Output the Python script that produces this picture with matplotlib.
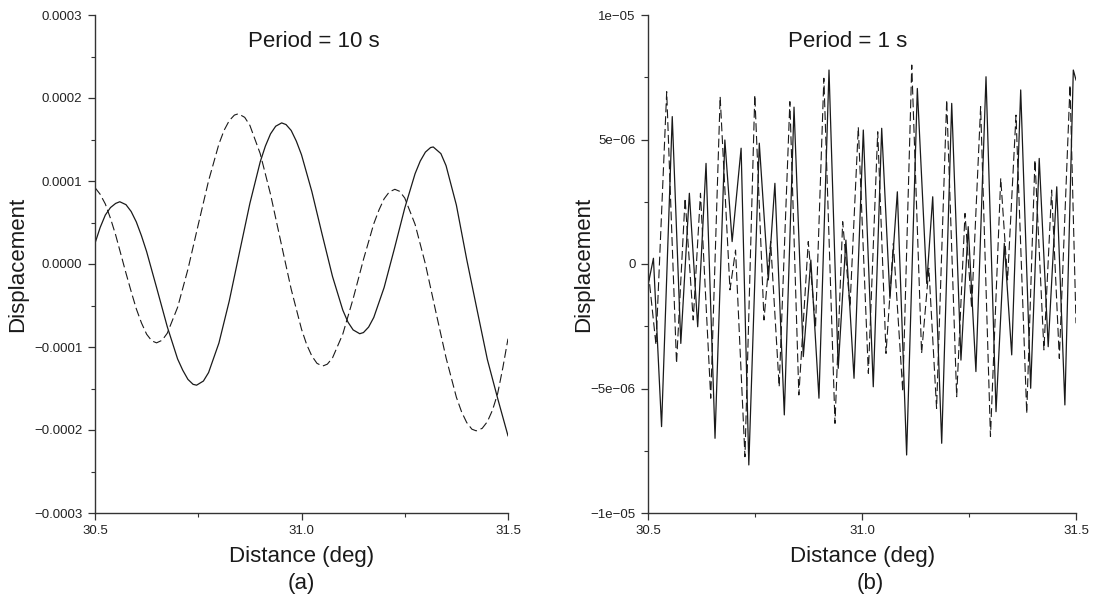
import matplotlib
matplotlib.use("Agg")
import matplotlib.pyplot as plt
from matplotlib.ticker import MultipleLocator

plt.rcParams['font.family'] = ['Liberation Sans', 'DejaVu Sans']

# ---- panel (a): period = 10 s, displacement in units of 1e-5 ----
xa_solid = [30.5, 30.5125, 30.525, 30.5375, 30.55, 30.56, 30.575, 30.5875, 30.6, 30.6125,
            30.625, 30.65, 30.675, 30.7, 30.7125, 30.725, 30.7375, 30.746, 30.7625, 30.775,
            30.8, 30.825, 30.85, 30.875, 30.9, 30.9125, 30.925, 30.9375, 30.952, 30.9625,
            30.975, 30.9875, 31.0, 31.025, 31.05, 31.075, 31.1, 31.1125, 31.125, 31.141,
            31.15, 31.1625, 31.175, 31.2, 31.225, 31.25, 31.275, 31.2875, 31.3, 31.3125,
            31.319, 31.3375, 31.35, 31.375, 31.4, 31.425, 31.45, 31.475, 31.5]
solid_a = [2.5, 4.4, 5.9, 6.8, 7.3, 7.5, 7.15, 6.33, 5.07, 3.4,
           1.49, -3.0, -7.56, -11.44, -12.8, -13.9, -14.5, -14.6, -14.1, -13.08,
           -9.53, -4.47, 1.44, 7.3, 12.3, 14.2, 15.68, 16.6, 17.0, 16.8,
           16.09, 14.8, 13.16, 8.74, 3.56, -1.49, -5.56, -7.0, -7.94, -8.4,
           -8.26, -7.6, -6.44, -2.84, 1.86, 6.74, 10.88, 12.4, 13.48, 14.03,
           14.1, 13.3, 11.85, 7.1, 0.56, -5.5, -11.5, -16.2, -20.7]
xa_dashed = [30.5, 30.5125, 30.525, 30.5375, 30.55, 30.5625, 30.575, 30.5875, 30.6, 30.6125,
             30.625, 30.6375, 30.649, 30.6625, 30.675, 30.7, 30.725, 30.75, 30.775, 30.8,
             30.8125, 30.825, 30.8375, 30.847, 30.8625, 30.875, 30.9, 30.925, 30.95, 30.975,
             31.0, 31.0125, 31.025, 31.0375, 31.051, 31.0625, 31.075, 31.1, 31.125, 31.15,
             31.175, 31.1875, 31.2, 31.2125, 31.226, 31.2375, 31.25, 31.275, 31.3, 31.325,
             31.35, 31.375, 31.3875, 31.4, 31.4125, 31.423, 31.4375, 31.45, 31.4625, 31.475,
             31.4875, 31.5]
dashed_a = [9.2, 8.4, 7.23, 5.5, 3.5, 1.2, -1.1, -3.3, -5.4, -7.1,
            -8.46, -9.26, -9.5, -9.19, -8.34, -5.22, -0.64, 4.74, 10.03, 14.45,
            16.1, 17.27, 17.94, 18.1, 17.67, 16.7, 13.3, 8.4, 2.66, -3.03,
            -7.85, -9.7, -11.08, -11.97, -12.3, -12.07, -11.32, -8.44, -4.19, 0.54,
            4.85, 6.5, 7.85, 8.68, 9.0, 8.76, 7.95, 4.78, 0.0, -5.7,
            -11.3, -16.05, -17.8, -19.1, -19.9, -20.1, -19.8, -19.0, -17.6, -15.6,
            -12.5, -9.0]

# ---- panel (b): period = 1 s, displacement in units of 1e-6 ----
xb_solid = [30.5, 30.512, 30.531, 30.556, 30.576, 30.596, 30.6155, 30.635, 30.656, 30.679,
            30.696, 30.717, 30.735, 30.7595, 30.7806, 30.796, 30.818, 30.8407, 30.8624, 30.88,
            30.899, 30.9225, 30.944, 30.962, 30.981, 31.0027, 31.026, 31.0457, 31.065, 31.0823,
            31.104, 31.129, 31.151, 31.165, 31.186, 31.2094, 31.231, 31.248, 31.266, 31.2896,
            31.313, 31.3324, 31.3497, 31.3707, 31.394, 31.414, 31.435, 31.455, 31.474, 31.4937, 31.5]
solid_b = [-0.8, 0.23, -6.53, 5.92, -3.19, 2.84, -2.52, 4.04, -7.0, 4.98,
           0.9, 4.65, -8.07, 4.85, -0.64, 3.24, -6.06, 6.3, -3.72, 0.16,
           -5.39, 7.79, -4.19, 0.96, -4.59, 5.38, -4.93, 5.45, -1.38, 2.9,
           -7.67, 7.05, -0.78, 2.7, -7.2, 6.45, -3.86, 1.5, -4.32, 7.52,
           -5.93, 0.83, -3.65, 6.99, -4.99, 4.24, -3.32, 3.1, -5.66, 7.79, 7.39]
xb_dashed = [30.5, 30.518, 30.543, 30.566, 30.586, 30.605, 30.622, 30.646, 30.668, 30.691,
             30.704, 30.726, 30.749, 30.7705, 30.786, 30.806, 30.831, 30.852, 30.874, 30.891,
             30.9105, 30.9365, 30.9545, 30.9716, 30.991, 31.0145, 31.0364, 31.0558, 31.073, 31.095,
             31.116, 31.139, 31.156, 31.174, 31.1977, 31.221, 31.2405, 31.256, 31.277, 31.3,
             31.324, 31.34, 31.3597, 31.3848, 31.404, 31.425, 31.443, 31.461, 31.486, 31.5]
dashed_b = [-0.3, -3.25, 6.92, -3.99, 2.64, -2.25, 2.84, -5.39, 6.72, -1.04,
            0.56, -7.74, 6.79, -2.25, 0.9, -4.93, 6.52, -5.26, 0.9, -2.52,
            7.46, -6.4, 1.7, -1.71, 5.5, -4.39, 5.31, -3.59, 0.83, -5.13,
            7.99, -3.59, -0.17, -5.8, 6.59, -5.33, 2.03, -1.78, 6.32, -6.93,
            3.44, -0.64, 5.98, -6.0, 4.18, -3.45, 2.97, -3.79, 7.19, -2.38]

xticks = [30.5, 31.0, 31.5]
xtick_labels = ["30.5", "31.0", "31.5"]
yticks_a = [-0.0003, -0.0002, -0.0001, 0.0, 0.0001, 0.0002, 0.0003]
ytick_labels_a = ["\u22120.0003", "\u22120.0002", "\u22120.0001", "0.0000", "0.0001", "0.0002", "0.0003"]
yticks_b = [-1e-05, -5e-06, 0.0, 5e-06, 1e-05]
ytick_labels_b = ["\u22121e\u221205", "\u22125e\u221206", "0", "5e\u221206", "1e\u221205"]

ink = "#1a1a1a"
fig = plt.figure(figsize=(10.96, 6.06), dpi=100)
ax1 = fig.add_axes([95 / 1096, 93 / 606, 413 / 1096, 498 / 606])
ax2 = fig.add_axes([648.3 / 1096, 93 / 606, 427.7 / 1096, 498 / 606])


def style(ax, yticks, ylabels, ymin, ymax, yminor, ylabel_x):
    ax.set_xlim(30.5, 31.5)
    ax.set_ylim(ymin, ymax)
    for s in ("top", "right"):
        ax.spines[s].set_visible(False)
    for s in ("left", "bottom"):
        ax.spines[s].set_color("#333333")
        ax.spines[s].set_linewidth(1.0)
    ax.set_xticks(xticks)
    ax.set_xticklabels(xtick_labels)
    ax.set_yticks(yticks)
    ax.set_yticklabels(ylabels)
    ax.xaxis.set_minor_locator(MultipleLocator(0.25))
    ax.yaxis.set_minor_locator(MultipleLocator(yminor))
    ax.tick_params(which="major", length=5, width=0.9, color="#333333",
                   labelsize=9.5, labelcolor="#222222", pad=4)
    ax.tick_params(which="minor", length=3, width=0.8, color="#333333")
    ax.set_xlabel("Distance (deg)", fontsize=16, color=ink, labelpad=6)
    ax.set_ylabel("Displacement", fontsize=16, color=ink)
    ax.yaxis.set_label_coords(ylabel_x, 0.5)


ax1.plot(xa_solid, [v * 1e-5 for v in solid_a], color=ink, lw=0.9)
ax1.plot(xa_dashed, [v * 1e-5 for v in dashed_a], color=ink, lw=0.8, dashes=(8, 3.5))
style(ax1, yticks_a, ytick_labels_a, -0.0003, 0.0003, 0.00005, -0.162)
ax1.text(0.53, 0.946, "Period = 10 s", transform=ax1.transAxes, ha="center", va="center",
         fontsize=16, color=ink)

ax2.plot(xb_solid, [v * 1e-6 for v in solid_b], color=ink, lw=0.9)
ax2.plot(xb_dashed, [v * 1e-6 for v in dashed_b], color=ink, lw=0.8, dashes=(8, 3.5))
style(ax2, yticks_b, ytick_labels_b, -1e-05, 1e-05, 2.5e-06, -0.127)
ax2.text(0.465, 0.946, "Period = 1 s", transform=ax2.transAxes, ha="center", va="center",
         fontsize=16, color=ink)

fig.text(301 / 1096, 1 - 583 / 606, "(a)", ha="center", va="center", fontsize=16, color=ink)
fig.text(870 / 1096, 1 - 583 / 606, "(b)", ha="center", va="center", fontsize=16, color=ink)

fig.savefig("out.png", dpi=100)
